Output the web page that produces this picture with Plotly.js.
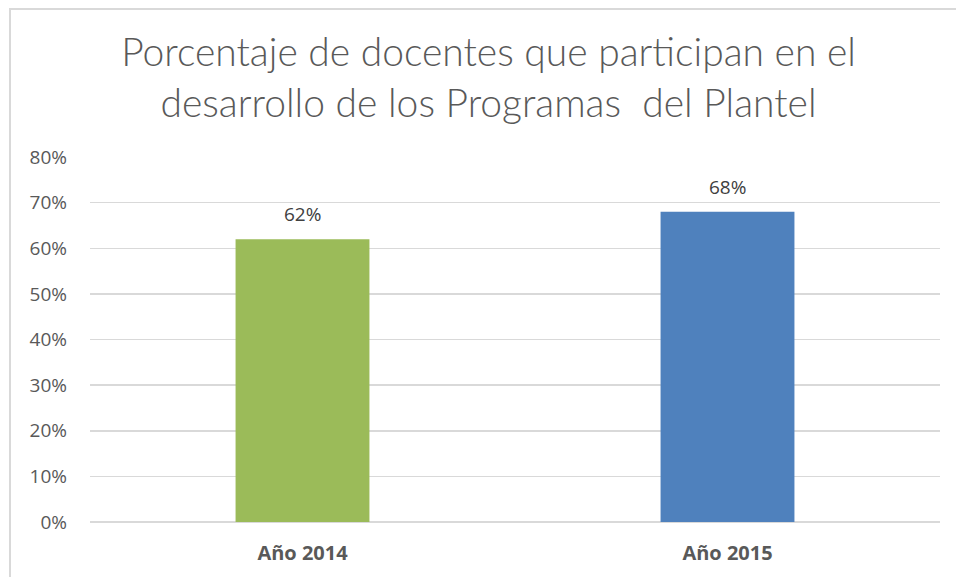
<!DOCTYPE html>
<html><head><meta charset="utf-8">
<script src="https://cdn.plot.ly/plotly-3.0.1.min.js"></script>
<style>
html,body{margin:0;padding:0;background:#fff;overflow:hidden;width:956px;height:577px;}
#chart{position:absolute;left:0;top:0;width:956px;height:577px;}
#frame{position:absolute;left:9px;top:8px;width:980px;height:600px;border:2px solid #d9d9d9;pointer-events:none;box-sizing:border-box;}
</style>
</head><body>
<div id="chart"></div>
<div id="frame"></div>
<script>
const categories = ["Año 2014", "Año 2015"];
const values = [0.62, 0.68];
const barColors = ["#9bbb59", "#4f81bd"];
const valueLabels = ["62%", "68%"];
const titleText = "Porcentaje de docentes que participan en el<br>desarrollo de los Programas  del Plantel";

const trace = {
  type: "bar",
  x: categories,
  y: values,
  marker: {color: barColors},
  width: 0.315,
  hoverinfo: "none"
};

const annotations = categories.map((c, i) => ({
  x: c, y: values[i], xref: "x", yref: "y",
  text: valueLabels[i], showarrow: false,
  yanchor: "bottom", yshift: 10,
  font: {family: "Open Sans, sans-serif", size: 19, color: "#404040"}
}));

const layout = {
  width: 956, height: 577,
  margin: {l: 90, r: 16, t: 157, b: 55},
  paper_bgcolor: "#ffffff",
  plot_bgcolor: "#ffffff",
  showlegend: false,
  annotations: annotations,
  title: {
    text: titleText,
    font: {family: "Lato, sans-serif", size: 39, color: "#595959", weight: 300},
    x: 0.511, xanchor: "center",
    y: 0.885, yanchor: "top"
  },
  xaxis: {
    type: "category",
    showgrid: false,
    showline: false,
    ticks: "",
    ticklabelstandoff: 17,
    tickfont: {family: "Open Sans, sans-serif", size: 20, color: "#595959", weight: 700}
  },
  yaxis: {
    range: [0, 0.8],
    tickvals: [0, 0.1, 0.2, 0.3, 0.4, 0.5, 0.6, 0.7, 0.8],
    tickformat: ".0%",
    showgrid: true,
    gridcolor: "#d9d9d9",
    gridwidth: 1.5,
    zeroline: true,
    zerolinecolor: "#d9d9d9",
    zerolinewidth: 1.5,
    showline: false,
    ticks: "",
    ticklabelstandoff: 22,
    tickfont: {family: "Open Sans, sans-serif", size: 19, color: "#595959"}
  }
};

Plotly.newPlot("chart", [trace], layout, {displayModeBar: false, staticPlot: true});
</script>
</body></html>
